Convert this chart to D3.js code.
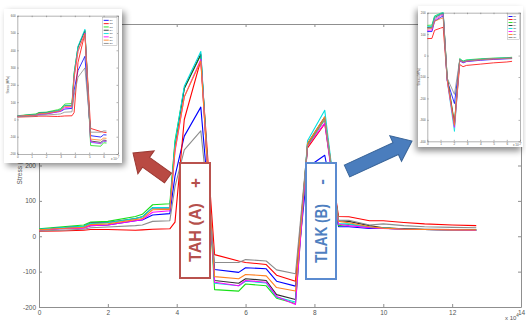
<!DOCTYPE html>
<html>
<head>
<meta charset="utf-8">
<script src="https://cdn.jsdelivr.net/npm/d3@7"></script>
<style>
  body { margin: 0; background: #fff; }
  svg { display: block; }
</style>
</head>
<body>
<svg id="chart" width="526" height="321"></svg>
<script>
// ---- data (x in units of 10^4, stress in MPa) ----
const seriesNames = ['S1', 'S2', 'S3', 'S4', 'S5', 'S6', 'S7', 'S8'];
const seriesColors = ['#0000ff', '#ff0000', '#18e018', '#303030', '#00e0e0', '#ff00ff', '#ff8020', '#8c8c8c'];

const mainX = [0, 0.6, 1.3, 1.5, 2.0, 2.8, 3.0, 3.3, 3.8, 3.95, 4.22, 4.7, 5.1, 5.8, 6.0, 6.6, 6.9, 7.45, 7.8, 8.3, 8.7, 9.0, 9.6, 10.0, 10.6, 11.2, 12.0, 12.7];
const mainBlue = [18, 21, 24, 30, 32, 44, 46, 60, 64, 170, 283, 365, -94, -102, -89, -92, -127, -141, 195, 229, 27, 27, 22, 23, 20, 19, 18, 17];
const mainRed = [14, 15, 17, 19, 19, 17, 18, 20, 21, 40, 330, 498, -52, -70, -74, -80, -110, -127, 250, 318, 56, 55, 44, 44, 39, 35, 32, 30];
const mainGreen = [21, 26, 32, 40, 42, 56, 62, 89, 92, 270, 418, 512, -151, -155, -135, -140, -175, -190, 258, 330, 30, 33, 26, 23, 21, 19, 18, 18];
const mainBlack = [19, 24, 28, 37, 39, 50, 55, 81, 80, 255, 418, 515, -125, -133, -120, -125, -165, -179, 262, 337, 44, 42, 30, 24, 21, 20, 19, 18];
const mainCyan = [20, 24, 28, 36, 38, 50, 55, 81, 82, 265, 424, 522, -133, -140, -127, -132, -172, -186, 270, 356, 36, 35, 25, 23, 20, 19, 18, 17];
const mainMagenta = [17, 21, 23, 30, 32, 44, 47, 68, 72, 240, 394, 500, -130, -140, -125, -130, -170, -193, 255, 320, 34, 30, 24, 22, 20, 19, 18, 17];
const mainOrange = [18, 22, 25, 33, 35, 47, 50, 75, 76, 245, 394, 495, -114, -120, -108, -112, -145, -155, 262, 337, 42, 38, 27, 23, 20, 19, 18, 18];
const mainGray = [15, 17, 20, 24, 26, 30, 32, 42, 44, 140, 244, 298, -74, -74, -66, -70, -95, -106, 255, 330, 46, 45, 32, 35, 30, 27, 25, 24];

const rightX = [0, 0.35, 0.55, 1.0, 1.2, 1.5, 2.05, 2.45, 2.7, 2.95, 4.0, 5.0, 6.0, 6.4];
const rightBlue = [112, 112, 160, 178, 185, -115, -224, -24, -34, -28, -22, -18, -15, -14];
const rightRed = [79, 80, 118, 128, 132, -110, -330, -42, -52, -46, -40, -34, -30, -27];
const rightGreen = [141, 142, 185, 197, 200, -100, -320, -14, -26, -20, -15, -12, -10, -8];
const rightBlack = [131, 132, 178, 193, 198, -100, -315, -18, -28, -24, -18, -14, -12, -11];
const rightCyan = [135, 136, 182, 196, 200, -115, -354, -16, -27, -22, -17, -13, -11, -10];
const rightMagenta = [118, 119, 165, 185, 192, -115, -335, -22, -32, -27, -20, -16, -14, -13];
const rightOrange = [125, 126, 160, 172, 176, -110, -325, -20, -30, -25, -19, -15, -13, -12];
const rightGray = [128, 129, 172, 190, 195, -105, -181, -20, -30, -25, -19, -15, -13, -12];

const mainTicksX = [0, 2, 4, 6, 8, 10, 12, 14];
const mainTicksY = [-200, -100, 0, 100, 200, 300, 400, 500, 600];
const leftTicksX = [0, 1, 2, 3, 4, 5, 6, 7];
const leftTicksY = [-200, -100, 0, 100, 200, 300, 400, 500, 600];
const rightTicksX = [0, 1, 2, 3, 4, 5, 6, 7];
const rightTicksY = [-400, -300, -200, -100, 0, 100, 200];

const mainSeries = [mainBlue, mainRed, mainGreen, mainBlack, mainCyan, mainMagenta, mainOrange, mainGray];
const rightSeries = [rightBlue, rightRed, rightGreen, rightBlack, rightCyan, rightMagenta, rightOrange, rightGray];

const FONT = 'Liberation Sans, Arial, sans-serif';
const svg = d3.select('#chart');
const defs = svg.append('defs');

const addShadow = (id, dx, dy) => {
  defs.append('filter').attr('id', id)
    .attr('x', '-20%').attr('y', '-20%').attr('width', '140%').attr('height', '140%')
    .append('feDropShadow')
    .attr('dx', dx).attr('dy', dy).attr('stdDeviation', 3)
    .attr('flood-color', '#000').attr('flood-opacity', 0.45);
};
addShadow('shadowLeft', 3, 3);
addShadow('shadowRight', -2, 4);

// box with inward ticks on all four sides (matlab style)
const drawFrame = (g, x, y, o) => {
  const [x0, x1] = x.range();
  const [yb, yt] = y.range();
  const fmt = (d) => String(d);
  g.append('g').attr('transform', `translate(0,${yb})`)
    .call(d3.axisBottom(x).tickValues(o.xTicks).tickSizeInner(-o.tick).tickSizeOuter(0).tickPadding(o.pad).tickFormat(fmt));
  g.append('g').attr('transform', `translate(0,${yt})`)
    .call(d3.axisTop(x).tickValues(o.xTicks).tickSizeInner(-o.tick).tickSizeOuter(0).tickFormat(''));
  g.append('g').attr('transform', `translate(${x0},0)`)
    .call(d3.axisLeft(y).tickValues(o.yTicks).tickSizeInner(-o.tick).tickSizeOuter(0).tickPadding(o.pad).tickFormat(fmt));
  g.append('g').attr('transform', `translate(${x1},0)`)
    .call(d3.axisRight(y).tickValues(o.yTicks).tickSizeInner(-o.tick).tickSizeOuter(0).tickFormat(''));
  g.selectAll('.domain, .tick line').attr('stroke', o.color).attr('stroke-width', o.sw);
  g.selectAll('.tick text').attr('fill', o.textColor).attr('font-size', o.fs).attr('font-family', FONT);
};

const drawLines = (g, xs, series, x, y, sw) => {
  const line = d3.line().x((d, i) => x(xs[i])).y((d) => y(d));
  series.forEach((vals, i) => {
    g.append('path')
      .datum(vals)
      .attr('fill', 'none')
      .attr('stroke', seriesColors[i])
      .attr('stroke-width', sw)
      .attr('stroke-linejoin', 'round')
      .attr('d', line);
  });
};

const expLabel = (g, px, py, fs) => {
  const t = g.append('text').attr('x', px).attr('y', py)
    .attr('font-size', fs).attr('font-family', FONT).attr('fill', '#555');
  t.append('tspan').text('x 10');
  t.append('tspan').attr('dy', -fs * 0.45).attr('font-size', fs * 0.75).text('4');
};

// ---- main chart ----
const mx = d3.scaleLinear().domain([0, 14]).range([39, 521]);
const my = d3.scaleLinear().domain([-200, 600]).range([307, 24]);
const main = svg.append('g');
drawFrame(main, mx, my, {
  xTicks: mainTicksX, yTicks: mainTicksY, tick: 3, pad: 3, color: '#8f8f8f', sw: 1, textColor: '#555', fs: 6.5,
});
drawLines(main, mainX, mainSeries, mx, my, 1.1);
main.append('text')
  .attr('transform', `translate(22,${(24 + 307) / 2}) rotate(-90)`)
  .attr('text-anchor', 'middle').attr('font-size', 6.5).attr('font-family', FONT).attr('fill', '#555')
  .text('Stress (MPa)');
expLabel(main, 505, 319.5, 6);

// ---- arrows ----
const arrow = (tail, tip, shaft, headW, headL, fill, stroke) => {
  const dx = tip[0] - tail[0];
  const dy = tip[1] - tail[1];
  const len = Math.hypot(dx, dy);
  const ang = Math.atan2(dy, dx) * 180 / Math.PI;
  const pts = [[0, -shaft / 2], [len - headL, -shaft / 2], [len - headL, -headW / 2], [len, 0],
    [len - headL, headW / 2], [len - headL, shaft / 2], [0, shaft / 2]];
  svg.append('polygon')
    .attr('transform', `translate(${tail[0]},${tail[1]}) rotate(${ang})`)
    .attr('points', pts.map((p) => p.join(',')).join(' '))
    .attr('fill', fill).attr('stroke', stroke).attr('stroke-width', 1);
};
arrow([168, 178], [133, 153], 12, 28, 16, '#b94a43', '#9c3a34');
arrow([347, 171], [412, 141], 13, 28, 18, '#4a7dbd', '#3a6599');

// ---- labelled boxes ----
const labelBox = (x0, y0, w, h, main1, main2, len1, sign, signPos, color, border) => {
  svg.append('rect').attr('x', x0).attr('y', y0).attr('width', w).attr('height', h)
    .attr('fill', '#fff').attr('stroke', border).attr('stroke-width', 2);
  const g = svg.append('g').attr('transform', `translate(${x0 + w / 2},${main2}) rotate(-90)`);
  g.append('text').attr('x', 0).attr('dy', '0.36em')
    .attr('font-size', 17).attr('font-weight', 'bold').attr('font-family', FONT).attr('fill', color)
    .attr('textLength', len1).attr('lengthAdjust', 'spacingAndGlyphs')
    .text(main1);
  g.append('text').attr('x', signPos).attr('dy', '0.36em').attr('text-anchor', 'middle')
    .attr('font-size', 17).attr('font-weight', 'bold').attr('font-family', FONT).attr('fill', color)
    .text(sign);
};
labelBox(180, 163, 30, 115, 'TAH (A)', 262, 59, '+', 79, '#b5504c', '#b9524e');
labelBox(306, 163, 30, 116, 'TLAK (B)', 263, 59, '-', 81, '#4f7fc0', '#5b8bd0');

// ---- inset cards ----
const legend = (g, lx, ly, w, rowH) => {
  g.append('rect').attr('x', lx).attr('y', ly).attr('width', w).attr('height', rowH * seriesNames.length + 1.5)
    .attr('fill', '#fff').attr('stroke', '#999').attr('stroke-width', 0.4);
  seriesNames.forEach((name, i) => {
    const cy = ly + 1 + rowH * (i + 0.5);
    g.append('line').attr('x1', lx + 1).attr('x2', lx + w * 0.42).attr('y1', cy).attr('y2', cy)
      .attr('stroke', seriesColors[i]).attr('stroke-width', 0.9);
    g.append('text').attr('x', lx + w * 0.48).attr('y', cy).attr('dy', '0.35em')
      .attr('font-size', 2.4).attr('font-family', FONT).attr('fill', '#444').text(name);
  });
};

// left inset: first peak, zoomed
const leftCard = svg.append('g');
leftCard.append('rect').attr('x', 4).attr('y', 9).attr('width', 118).attr('height', 154)
  .attr('fill', '#fff').attr('filter', 'url(#shadowLeft)');
const lx = d3.scaleLinear().domain([0, 7]).range([17.3, 118]);
const ly = d3.scaleLinear().domain([-200, 600]).range([154, 15.7]);
drawFrame(leftCard, lx, ly, {
  xTicks: leftTicksX, yTicks: leftTicksY, tick: 1.5, pad: 1.5, color: '#666', sw: 0.5, textColor: '#555', fs: 3,
});
defs.append('clipPath').attr('id', 'leftClip').append('rect')
  .attr('x', lx(0)).attr('y', ly(600)).attr('width', lx(6.2) - lx(0)).attr('height', ly(-200) - ly(600));
drawLines(leftCard.append('g').attr('clip-path', 'url(#leftClip)'), mainX, mainSeries, lx, ly, 0.8);
legend(leftCard, 102.7, 17.7, 14.3, 3.3);
leftCard.append('text')
  .attr('transform', `translate(9,${(15.7 + 154) / 2}) rotate(-90)`)
  .attr('text-anchor', 'middle').attr('font-size', 3).attr('font-family', FONT).attr('fill', '#555')
  .text('Stress (MPa)');
expLabel(leftCard, 111, 160, 3);

// right inset: second peak region at side B
const rightCard = svg.append('g');
rightCard.append('rect').attr('x', 418).attr('y', 6).attr('width', 105).attr('height', 141)
  .attr('fill', '#fff').attr('filter', 'url(#shadowRight)');
const rx = d3.scaleLinear().domain([0, 7]).range([427.3, 520]);
const ry = d3.scaleLinear().domain([-400, 200]).range([141.3, 12.7]);
drawFrame(rightCard, rx, ry, {
  xTicks: rightTicksX, yTicks: rightTicksY, tick: 1.5, pad: 1.5, color: '#666', sw: 0.5, textColor: '#555', fs: 3,
});
drawLines(rightCard, rightX, rightSeries, rx, ry, 0.8);
legend(rightCard, 507.5, 14, 12, 3);
rightCard.append('text')
  .attr('transform', `translate(420,${(12.7 + 141.3) / 2}) rotate(-90)`)
  .attr('text-anchor', 'middle').attr('font-size', 3).attr('font-family', FONT).attr('fill', '#555')
  .text('Stress (MPa)');
expLabel(rightCard, 513, 146, 3);
</script>
</body>
</html>
